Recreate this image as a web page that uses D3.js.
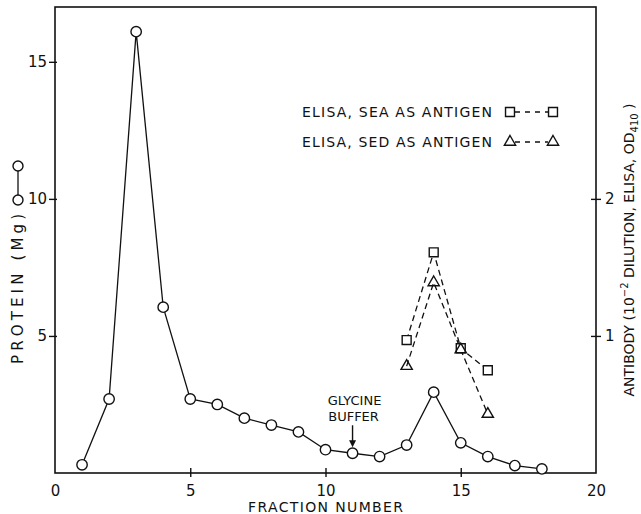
<!DOCTYPE html>
<meta charset="utf-8">
<script src="https://cdn.jsdelivr.net/npm/d3@7"></script>
<style>
    body { margin: 0; background: #fff; }
    text { font-family: "DejaVu Sans", sans-serif; fill: #111; }
</style>
<svg id="chart" width="641" height="514"></svg>
<script>
    // protein elution profile
    var fractions = [1, 2, 3, 4, 5, 6, 7, 8, 9, 10, 11, 12, 13, 14, 15, 16, 17, 18];
    var protein = [0.3, 2.7, 16.1, 6.05, 2.7, 2.5, 2.0, 1.75, 1.5, 0.85, 0.72, 0.6, 1.02, 2.95, 1.1, 0.6, 0.27, 0.15];
    // ELISA antibody readings
    var elisaFractions = [13, 14, 15, 16];
    var seaValues = [0.97, 1.61, 0.91, 0.75];
    var sedValues = [0.78, 1.39, 0.9, 0.43];
    var xTicks = [0, 5, 10, 15, 20];
    var leftTicks = [5, 10, 15];
    var rightTicks = [1, 2];

    var margin = {top: 7, right: 45, bottom: 41, left: 55};
    var svg = d3.select('#chart');
    var width = +svg.attr('width');
    var height = +svg.attr('height');

    var x = d3.scaleLinear().domain([0, 20]).range([margin.left, width - margin.right]);
    var yL = d3.scaleLinear().domain([0, 17]).range([height - margin.bottom, margin.top]);
    var yR = d3.scaleLinear().domain([0, 3.4]).range([height - margin.bottom, margin.top]);

    // frame
    svg.append('rect')
        .attr('x', x(0)).attr('y', yL(17))
        .attr('width', x(20) - x(0)).attr('height', yL(0) - yL(17))
        .attr('fill', 'none').attr('stroke', '#111').attr('stroke-width', 1.6);

    // axes
    var gx = svg.append('g')
        .attr('transform', `translate(0,${yL(0)})`)
        .call(d3.axisBottom(x).tickValues(xTicks).tickSize(4).tickPadding(8));
    gx.selectAll('.tick line').attr('y1', -5).attr('y2', 4)
        .attr('opacity', d => (d === 0 || d === 20) ? 0 : 1);

    var gl = svg.append('g')
        .attr('transform', `translate(${x(0)},0)`)
        .call(d3.axisLeft(yL).tickValues(leftTicks).tickSize(6).tickPadding(2));
    gl.selectAll('.tick line').attr('x1', 2).attr('x2', -6);

    var gr = svg.append('g')
        .attr('transform', `translate(${x(20)},0)`)
        .call(d3.axisRight(yR).tickValues(rightTicks).tickFormat(d3.format('d')).tickSize(5).tickPadding(4));
    gr.selectAll('.tick line').attr('x1', -5).attr('x2', 5);

    svg.selectAll('.domain').remove();
    svg.selectAll('.tick line').attr('stroke', '#111').attr('stroke-width', 1.4);
    svg.selectAll('.tick text').attr('font-size', 15).attr('font-family', '"DejaVu Sans", sans-serif').attr('fill', '#111');

    // axis titles
    svg.append('text')
        .attr('x', x(10)).attr('y', 512)
        .attr('text-anchor', 'middle').attr('font-size', 14)
        .attr('textLength', 155).attr('lengthAdjust', 'spacing')
        .text('FRACTION NUMBER');

    var lt = svg.append('g').attr('transform', 'translate(18,289) rotate(-90)');
    lt.append('text')
        .attr('x', 0).attr('y', 5)
        .attr('text-anchor', 'middle').attr('font-size', 15)
        .attr('textLength', 150).attr('lengthAdjust', 'spacing')
        .text('PROTEIN (Mg)');
    lt.append('line').attr('x1', 89).attr('x2', 123).attr('y1', 0).attr('y2', 0)
        .attr('stroke', '#111').attr('stroke-width', 1.3);
    lt.selectAll('circle.key').data([89, 123]).join('circle')
        .attr('cx', d => d).attr('cy', 0).attr('r', 5)
        .attr('fill', '#fff').attr('stroke', '#111').attr('stroke-width', 1.4);

    var rt = svg.append('text')
        .attr('transform', 'translate(634,250) rotate(-90)')
        .attr('text-anchor', 'middle').attr('font-size', 14);
    rt.append('tspan').text('ANTIBODY (10');
    rt.append('tspan').attr('font-size', 10).attr('dy', -6).text('−2');
    rt.append('tspan').attr('dy', 6).text(' DILUTION, ELISA, OD');
    rt.append('tspan').attr('font-size', 10).attr('dy', 4).text('410');
    rt.append('tspan').attr('dy', -4).text(' )');

    // protein line
    var line = d3.line().x((d, i) => x(fractions[i])).y(d => yL(d));
    svg.append('path').datum(protein)
        .attr('d', line).attr('fill', 'none')
        .attr('stroke', '#111').attr('stroke-width', 1.3);

    // ELISA dashed lines
    var eline = d3.line().x((d, i) => x(elisaFractions[i])).y(d => yR(d));
    [seaValues, sedValues].forEach(function(vals) {
        svg.append('path').datum(vals)
            .attr('d', eline).attr('fill', 'none')
            .attr('stroke', '#111').attr('stroke-width', 1.3)
            .attr('stroke-dasharray', '6,4');
    });

    svg.append('g').selectAll('circle')
        .data(protein).join('circle')
        .attr('cx', (d, i) => x(fractions[i])).attr('cy', d => yL(d)).attr('r', 5.2)
        .attr('fill', '#fff').attr('stroke', '#111').attr('stroke-width', 1.4);

    var square = d3.symbol().type(d3.symbolSquare).size(80);
    var triangle = d3.symbol().type(d3.symbolTriangle).size(55);

    svg.append('g').selectAll('path')
        .data(seaValues).join('path')
        .attr('d', square)
        .attr('transform', (d, i) => `translate(${x(elisaFractions[i])},${yR(d)})`)
        .attr('fill', '#fff').attr('stroke', '#111').attr('stroke-width', 1.4);

    svg.append('g').selectAll('path')
        .data(sedValues).join('path')
        .attr('d', triangle)
        .attr('transform', (d, i) => `translate(${x(elisaFractions[i])},${yR(d)})`)
        .attr('fill', 'none').attr('stroke', '#111').attr('stroke-width', 1.4);

    // legend
    var legend = [
        {label: 'ELISA, SEA AS ANTIGEN', sym: square, y: 112},
        {label: 'ELISA, SED AS ANTIGEN', sym: triangle, y: 142}
    ];
    legend.forEach(function(l) {
        svg.append('text')
            .attr('x', 302).attr('y', l.y + 5)
            .attr('font-size', 14)
            .attr('textLength', 190).attr('lengthAdjust', 'spacing')
            .text(l.label);
        svg.append('line')
            .attr('x1', 515).attr('x2', 548).attr('y1', l.y).attr('y2', l.y)
            .attr('stroke', '#111').attr('stroke-width', 1.3)
            .attr('stroke-dasharray', '5,5');
        [510, 553].forEach(function(px) {
            svg.append('path').attr('d', l.sym)
                .attr('transform', `translate(${px},${l.y})`)
                .attr('fill', '#fff').attr('stroke', '#111').attr('stroke-width', 1.4);
        });
    });

    // glycine buffer annotation
    var ax = x(11), ay = yL(protein[10]) - 6;
    svg.append('text').attr('x', ax + 2).attr('y', ay - 42)
        .attr('text-anchor', 'middle').attr('font-size', 13).text('GLYCINE');
    svg.append('text').attr('x', ax + 1).attr('y', ay - 26)
        .attr('text-anchor', 'middle').attr('font-size', 13).text('BUFFER');
    svg.append('line').attr('x1', ax).attr('x2', ax).attr('y1', ay - 22).attr('y2', ay - 5)
        .attr('stroke', '#111').attr('stroke-width', 1.4);
    svg.append('path')
        .attr('d', d3.line()([[ax - 3.5, ay - 7], [ax + 3.5, ay - 7], [ax, ay]]) + 'Z')
        .attr('fill', '#111');
</script>
